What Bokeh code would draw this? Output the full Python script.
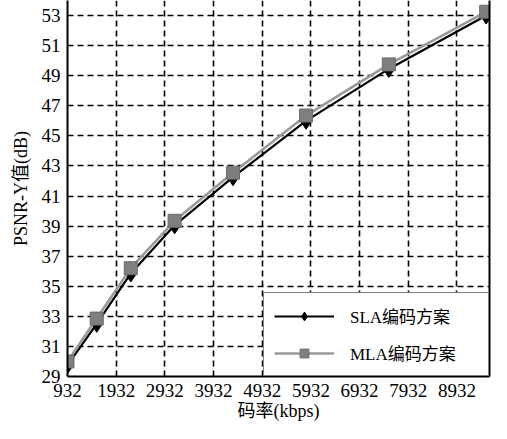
from bokeh.plotting import figure
from bokeh.models import FixedTicker, LinearAxis, Legend, LegendItem, Range1d
from bokeh.embed import file_html
from bokeh.resources import INLINE

# ---- data ----
bitrate = [932, 1532, 2232, 3132, 4332, 5832, 7532, 9532]
sla_psnr = [29.75, 32.5, 35.85, 39.05, 42.25, 46.0, 49.45, 53.0]
mla_psnr = [30.0, 32.85, 36.2, 39.35, 42.55, 46.35, 49.75, 53.25]
x_ticks = [932, 1932, 2932, 3932, 4932, 5932, 6932, 7932, 8932]
y_ticks = [29, 31, 33, 35, 37, 39, 41, 43, 45, 47, 49, 51, 53]
series_names = ["SLA编码方案", "MLA编码方案"]
x_label = "码率(kbps)"
y_label = "PSNR-Y值(dB)"

FONT = "Liberation Serif, Noto Sans CJK SC, serif"

p = figure(width=491, height=423, output_backend="svg", toolbar_location=None,
           x_range=Range1d(932, 9600), y_range=Range1d(29, 54.0),
           min_border_left=67, min_border_right=2, min_border_top=0, min_border_bottom=47)
p.outline_line_color = None
p.background_fill_color = "white"

for ax in (p.xaxis[0], p.yaxis[0]):
    ax.axis_line_color = "black"
    ax.axis_line_width = 2
    ax.major_tick_in = 0
    ax.major_tick_out = 0
    ax.minor_tick_line_color = None
    ax.major_label_text_font = FONT
    ax.major_label_text_font_size = "19px"
    ax.major_label_text_color = "black"
    ax.axis_label_text_font = FONT
    ax.axis_label_text_font_size = "18px"
    ax.axis_label_text_font_style = "normal"
    ax.axis_label_text_color = "black"

p.xaxis[0].ticker = FixedTicker(ticks=x_ticks)
p.yaxis[0].ticker = FixedTicker(ticks=y_ticks)
p.xaxis[0].axis_label = x_label
p.yaxis[0].axis_label = y_label
p.xaxis[0].major_label_standoff = 7
p.yaxis[0].major_label_standoff = 7
p.xaxis[0].axis_label_standoff = 1
p.yaxis[0].axis_label_standoff = 8

right_ax = LinearAxis(ticker=FixedTicker(ticks=[]), axis_line_color="black", axis_line_width=2,
                      major_tick_in=0, major_tick_out=0, minor_tick_line_color=None,
                      major_label_text_font_size="0px", major_label_standoff=0)
p.add_layout(right_ax, "right")

for g in (p.xgrid[0], p.ygrid[0]):
    g.grid_line_color = "black"
    g.grid_line_width = 1.6
    g.grid_line_dash = "6 4"
p.xgrid[0].ticker = FixedTicker(ticks=x_ticks)
p.ygrid[0].ticker = FixedTicker(ticks=y_ticks)

l1 = p.line(bitrate, sla_psnr, line_color="black", line_width=2.2)
s1 = p.scatter(bitrate, sla_psnr, marker="diamond", size=17,
               fill_color="black", line_color="black")
l2 = p.line(bitrate, mla_psnr, line_color="#9a9a9a", line_width=2.6)
s2 = p.scatter(bitrate, mla_psnr, marker="square", size=13, fill_color="#7f7f7f", line_color="#6a6a6a")

legend = Legend(items=[LegendItem(label=series_names[0], renderers=[l1, s1]),
                       LegendItem(label=series_names[1], renderers=[l2, s2])],
                location="bottom_right", margin=0, padding=10,
                glyph_width=60, glyph_height=22, label_height=22, spacing=12,
                label_standoff=16, label_width=128,
                label_text_font=FONT, label_text_font_size="17px", label_text_color="black",
                border_line_color="black", border_line_width=1.8,
                background_fill_color="white", background_fill_alpha=1.0)
p.add_layout(legend)

open("out.html", "w").write(file_html(p, INLINE))
